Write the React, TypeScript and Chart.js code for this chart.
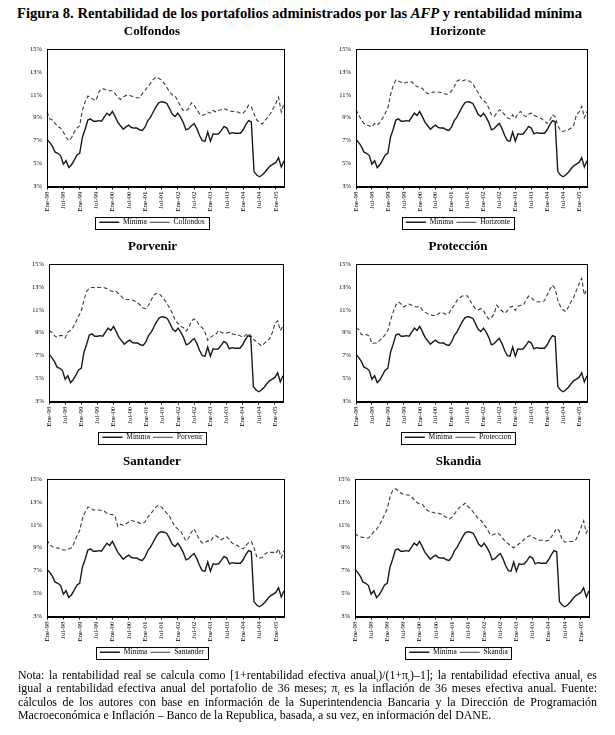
import { useEffect, useRef } from 'react'
import { Chart, registerables, type ChartConfiguration, type Plugin } from 'chart.js'

Chart.register(...registerables)

// monthly axis Ene-98 .. Abr-05
const MONTHS = ['Ene', 'Feb', 'Mar', 'Abr', 'May', 'Jun', 'Jul', 'Ago', 'Sep', 'Oct', 'Nov', 'Dic']
const YEARS = ['98', '99', '00', '01', '02', '03', '04', '05']
const labels = YEARS.flatMap(y => MONTHS.map(m => `${m}-${y}`)).slice(0, 88)

const yTicks = [3, 5, 7, 9, 11, 13, 15]

const minima = [
  7.1, 6.85, 6.5, 6.0, 5.9, 5.7, 4.95, 5.25, 4.65, 4.9, 5.3, 5.75,
  5.9, 7.3, 8.0, 8.8, 8.9, 8.7, 8.7, 8.75, 8.7, 9.05, 9.4, 9.2,
  9.55, 9.1, 8.6, 8.3, 8.0, 8.2, 8.35, 8.15, 8.1, 8.1, 7.95, 7.9,
  8.2, 8.75, 9.05, 9.5, 9.95, 10.3, 10.4, 10.35, 10.25, 9.8, 9.3, 9.1,
  9.4, 9.05, 8.6, 7.95, 8.05, 8.3, 8.5, 8.05, 7.45, 7.0, 6.95, 7.75,
  6.95, 7.6, 7.55, 7.6, 7.9, 8.25, 8.1, 7.6, 7.7, 7.65, 7.65, 7.65,
  7.95, 8.4, 8.75, 8.65, 4.3, 4.0, 3.85, 4.0, 4.25, 4.55, 4.8, 4.95,
  5.1, 5.5, 4.7, 5.25,
]

const colfondos = [
  9.5, 8.9, 8.8, 8.5, 8.2, 8.1, 7.75, 7.3, 7.0, 7.25, 7.75, 8.1,
  8.3, 9.65, 10.4, 10.9, 10.75, 10.6, 10.5, 11.2, 11.55, 11.5, 11.4, 11.35,
  11.35, 11.1, 10.8, 10.6, 10.8, 10.95, 10.95, 10.9, 10.8, 10.75, 10.75, 11.1,
  11.4, 11.7, 12.0, 12.35, 12.55, 12.45, 12.3, 12.0, 11.65, 11.25, 11.0, 10.9,
  10.5, 10.0, 9.65, 9.6, 9.8, 10.3, 10.1, 9.7, 9.35, 9.2, 9.3, 9.5,
  9.4, 9.65, 9.5, 9.65, 9.7, 9.8, 9.7, 9.6, 9.55, 9.55, 9.5, 9.4,
  9.4, 9.65, 10.1, 9.95, 9.35, 8.8, 8.6, 8.45, 8.75, 9.05, 9.35, 9.8,
  10.25, 10.8, 9.5, 10.25,
]

const horizonte = [
  9.7, 9.25, 8.8, 8.5, 8.35, 8.3, 8.2, 8.5, 8.35, 8.6, 8.95, 9.4,
  9.85, 11.0, 11.8, 12.3, 12.2, 12.1, 12.0, 12.1, 12.1, 12.15, 11.9, 11.7,
  11.7, 11.55, 11.25, 11.1, 11.1, 11.25, 11.25, 11.25, 11.2, 11.1, 11.05, 11.1,
  11.35, 11.7, 12.2, 12.3, 12.2, 12.3, 12.3, 12.15, 12.0, 11.55, 11.2, 10.75,
  10.5, 10.3, 9.85, 9.25, 9.1, 9.4, 9.7, 9.55, 9.25, 9.0, 8.9, 9.25,
  8.95, 9.4, 9.55, 9.25, 9.1, 9.3, 9.4, 9.2, 9.1, 9.0, 8.9, 8.7,
  8.5, 8.8, 9.25, 9.1, 8.3, 7.9, 7.8, 7.9, 7.95, 8.1, 8.35, 9.25,
  9.5, 10.0, 9.0, 9.55,
]

const porvenir = [
  9.2, 9.05, 8.75, 8.6, 8.75, 8.75, 8.55, 9.05, 9.2, 9.5, 9.95, 10.45,
  10.9, 11.85, 12.6, 12.9, 12.95, 12.95, 12.95, 12.95, 12.95, 12.9, 12.8, 12.65,
  12.6, 12.6, 12.4, 12.15, 11.9, 11.9, 11.9, 11.85, 11.75, 11.6, 11.4, 11.15,
  11.1, 11.4, 11.85, 12.3, 12.45, 12.4, 12.15, 11.85, 11.5, 11.1, 10.65, 10.05,
  9.8, 9.55, 9.45, 9.15, 9.45, 10.05, 10.2, 10.0, 9.6, 9.45, 9.05, 8.35,
  8.6, 8.75, 8.85, 9.2, 9.05, 8.95, 8.95, 9.05, 8.9, 8.85, 8.85, 8.75,
  8.6, 8.75, 8.95, 8.75, 8.45, 8.25, 8.05, 7.85, 8.05, 8.3, 8.45, 9.0,
  9.8, 10.05, 9.2, 9.6,
]

const proteccion = [
  9.4, 9.3, 8.85, 8.8, 8.85, 8.7, 8.05, 8.1, 8.1, 8.35, 8.55, 8.85,
  9.2, 10.1, 10.8, 11.4, 11.7, 11.5, 11.25, 11.4, 11.5, 11.4, 11.3, 11.25,
  11.3, 11.0, 10.8, 10.65, 10.6, 10.5, 10.5, 10.65, 10.8, 10.7, 10.6, 10.7,
  11.1, 11.4, 11.8, 12.05, 12.2, 12.25, 12.2, 11.8, 11.4, 11.1, 11.0, 11.1,
  10.95, 10.5, 10.2, 10.3, 10.65, 11.4, 11.1, 10.9, 10.7, 10.9, 11.25, 11.3,
  10.95, 11.3, 11.4, 11.4, 11.85, 12.2, 12.05, 11.85, 11.7, 11.7, 11.7, 11.8,
  12.3, 12.8, 13.15, 12.85, 11.85, 11.3, 11.0, 10.85, 11.25, 11.7, 12.1, 12.7,
  13.25, 13.75, 12.3, 12.85,
]

const santander = [
  9.7, 9.25, 9.1, 8.95, 9.0, 8.9, 8.8, 8.8, 8.9, 9.0, 9.45, 10.05,
  10.5, 11.55, 12.1, 12.55, 12.5, 12.3, 12.3, 12.3, 12.25, 12.2, 12.0, 11.9,
  11.9, 11.75, 10.85, 11.05, 10.95, 11.1, 11.25, 11.4, 11.3, 11.25, 11.15, 11.1,
  11.25, 11.7, 11.95, 12.25, 12.55, 12.7, 12.55, 12.3, 12.0, 11.75, 11.25, 10.85,
  10.65, 10.5, 10.05, 9.6, 9.85, 10.35, 10.65, 10.15, 9.7, 9.4, 9.45, 9.6,
  9.55, 9.9, 10.05, 9.9, 9.7, 9.85, 9.95, 9.7, 9.4, 9.25, 9.2, 9.0,
  8.9, 9.2, 9.45, 9.55, 9.0, 8.2, 8.1, 8.15, 8.45, 8.6, 8.6, 8.6,
  8.5, 8.9, 8.15, 8.75,
]

const skandia = [
  10.25, 10.05, 9.95, 9.9, 9.85, 9.85, 10.1, 10.4, 10.6, 10.95, 11.4, 11.9,
  12.4, 13.4, 14.0, 14.15, 14.0, 13.8, 13.65, 13.6, 13.6, 13.45, 13.2, 12.95,
  12.85, 12.8, 12.5, 12.25, 12.1, 12.1, 12.0, 12.0, 11.95, 11.8, 11.65, 11.5,
  11.65, 11.95, 12.3, 12.55, 12.7, 12.9, 12.6, 12.4, 12.1, 11.8, 11.5, 11.35,
  11.0, 10.7, 10.25, 10.1, 10.2, 10.3, 10.1, 9.8, 9.5, 9.35, 9.15, 9.0,
  9.15, 9.35, 9.5, 9.75, 9.95, 10.05, 9.95, 9.8, 9.7, 9.65, 9.65, 9.6,
  9.65, 9.95, 10.3, 10.7, 10.45, 9.7, 9.5, 9.5, 9.55, 9.55, 9.65, 10.15,
  10.75, 11.35, 10.3, 10.8,
]

type PanelSpec = {
  title: string
  legend: string
  values: number[]
  left: number
  top: number
  width: number
  padRight: number
}

const panels: PanelSpec[] = [
  { title: 'Colfondos', legend: 'Colfondos', values: colfondos, left: 20, top: 20, width: 268, padRight: 4 },
  { title: 'Horizonte', legend: 'Horizonte', values: horizonte, left: 329, top: 20, width: 264, padRight: 6 },
  { title: 'Porvenir', legend: 'Porvenir', values: porvenir, left: 22, top: 235, width: 266, padRight: 5 },
  { title: 'Protección', legend: 'Proteccion', values: proteccion, left: 329, top: 235, width: 264, padRight: 6 },
  { title: 'Santander', legend: 'Santander', values: santander, left: 20, top: 450, width: 268, padRight: 4 },
  { title: 'Skandia', legend: 'Skandia', values: skandia, left: 328, top: 450, width: 267, padRight: 6 },
]

const SERIF = '"Liberation Serif", "Times New Roman", serif'

// black frame round the plot and round the legend
const framePlugin: Plugin = {
  id: 'frame',
  afterDraw(chart) {
    const { ctx, chartArea: a } = chart
    ctx.save()
    ctx.setLineDash([])
    ctx.strokeStyle = '#000'
    ctx.lineWidth = 1
    ctx.strokeRect(Math.round(a.left) + 0.5, Math.round(a.top) + 0.5, Math.round(a.right - a.left), Math.round(a.bottom - a.top))
    const boxes = (chart.legend as any)?.legendHitBoxes as { left: number; top: number; width: number; height: number }[] | undefined
    if (boxes && boxes.length) {
      const l = Math.min(...boxes.map(b => b.left)) - 4
      const r = Math.max(...boxes.map(b => b.left + b.width)) + 4
      const t = Math.min(...boxes.map(b => b.top)) - 2
      const bt = Math.max(...boxes.map(b => b.top + b.height)) + 2
      ctx.strokeRect(Math.round(l) + 0.5, Math.round(t) + 0.5, Math.round(r - l), Math.round(bt - t))
    }
    ctx.restore()
  },
}

function Panel({ spec }: { spec: PanelSpec }) {
  const ref = useRef<HTMLCanvasElement>(null)

  useEffect(() => {
    if (!ref.current) return
    const config: ChartConfiguration<'line'> = {
      type: 'line',
      data: {
        labels,
        datasets: [
          {
            label: 'Mínima',
            data: minima,
            borderColor: '#1a1a1a',
            borderWidth: 1.4,
            pointRadius: 0,
            tension: 0,
          },
          {
            label: spec.legend,
            data: spec.values,
            borderColor: '#3a3a3a',
            borderWidth: 1.1,
            borderDash: [4, 2.5],
            pointRadius: 0,
            tension: 0,
          },
        ],
      },
      options: {
        responsive: true,
        maintainAspectRatio: false,
        animation: false,
        layout: { padding: { top: 3.4, right: spec.padRight, bottom: 1, left: 0 } },
        plugins: {
          title: {
            display: true,
            text: spec.title,
            color: '#000',
            font: { family: SERIF, size: 13, weight: 'bold' },
            padding: { top: 0, bottom: 10 },
          },
          legend: {
            position: 'bottom',
            labels: {
              color: '#000',
              font: { family: SERIF, size: 7.5 },
              usePointStyle: true,
              pointStyle: 'line',
              pointStyleWidth: 20,
              boxHeight: 7,
              padding: 3,
            },
          },
          tooltip: { enabled: false },
        },
        scales: {
          x: {
            offset: false,
            border: { display: true, color: '#000', width: 1 },
            grid: {
              drawOnChartArea: false,
              drawTicks: true,
              tickLength: 3,
              color: '#000',
            },
            ticks: {
              autoSkip: false,
              maxRotation: 90,
              minRotation: 90,
              padding: 2,
              color: '#000',
              font: { family: SERIF, size: 7 },
              callback: (_v, i) => (i % 6 === 0 ? labels[i] : null),
            },
            afterFit: s => { s.height = 29 },
          },
          y: {
            min: 3,
            max: 15,
            border: { display: true, color: '#000', width: 1 },
            grid: { display: false, drawTicks: false },
            afterBuildTicks: s => { s.ticks = yTicks.map(v => ({ value: v })) },
            ticks: {
              padding: 5,
              color: '#000',
              font: { family: SERIF, size: 6.5 },
              callback: v => `${v}%`,
            },
            afterFit: s => { s.width = 27 },
          },
        },
      },
      plugins: [framePlugin],
    }
    const chart = new Chart(ref.current, config)
    return () => chart.destroy()
  }, [spec])

  return (
    <div style={{ position: 'absolute', left: spec.left, top: spec.top, width: spec.width, height: 217 }}>
      <canvas ref={ref} />
    </div>
  )
}

const subStyle = { fontSize: 7, lineHeight: 0 }
const fullLine = { display: 'block', textAlign: 'justify' as const, textAlignLast: 'justify' as const }

export default function App() {
  return (
    <div style={{ position: 'absolute', left: 0, top: 0, width: 615, height: 735, background: '#fff', fontFamily: SERIF, color: '#000' }}>
      <div style={{ position: 'absolute', left: 17, top: 5, width: 600, fontSize: 14.6, fontWeight: 'bold', whiteSpace: 'nowrap' }}>
        Figura 8. Rentabilidad de los portafolios administrados por las <i>AFP</i> y rentabilidad mínima
      </div>
      {panels.map(p => <Panel key={p.title} spec={p} />)}
      <div style={{ position: 'absolute', left: 18, top: 669, width: 579, fontSize: 11.9, lineHeight: '13.4px' }}>
        <span style={fullLine}>
          Nota: la rentabilidad real se calcula como [1+rentabilidad efectiva anual<sub style={subStyle}>t</sub>)/(1+π<sub style={subStyle}>t</sub>)–1]; la rentabilidad efectiva anual<sub style={subStyle}>t</sub> es
        </span>
        <span style={fullLine}>
          igual a rentabilidad efectiva anual del portafolio de 36 meses; π<sub style={subStyle}>t</sub> es la inflación de 36 meses efectiva anual. Fuente:
        </span>
        <span style={fullLine}>
          cálculos de los autores con base en información de la Superintendencia Bancaria y la Dirección de Programación
        </span>
        <span style={{ display: 'block' }}>
          Macroeconómica e Inflación – Banco de la Republica, basada, a su vez, en información del DANE.
        </span>
      </div>
    </div>
  )
}
